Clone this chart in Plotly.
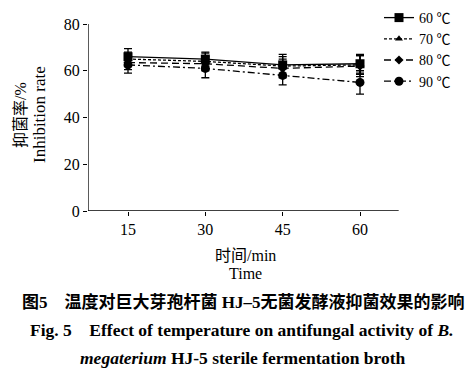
import plotly.graph_objects as go

times = [15, 30, 45, 60]
series_names = ["60 ℃", "70 ℃", "80 ℃", "90 ℃"]
v60 = [66.0, 65.0, 62.5, 63.0]
e60 = [3.5, 3.0, 4.5, 4.0]
v70 = [65.0, 64.0, 62.0, 62.5]
e70 = [3.0, 3.5, 4.0, 4.0]
v80 = [63.5, 63.0, 61.0, 62.0]
e80 = [3.0, 3.0, 4.0, 4.5]
v90 = [62.5, 61.0, 58.0, 55.0]
e90 = [3.5, 4.0, 4.0, 5.0]
y_ticks = [0, 20, 40, 60, 80]

values = [v60, v70, v80, v90]
errors = [e60, e70, e80, e90]
symbols = ["square", "triangle-up", "diamond", "circle"]
sizes = [9, 7, 7, 9]
dashes = ["solid", "3px,2px", "7px,4px", "7px,3px,2px,3px"]

SERIF = "Liberation Serif, Noto Sans CJK SC, serif"

L, R, T, B = 88, 10, 0, 164
W, H = 475, 375
pw = W - L - R
ph = H - T - B
px_per_unit = (360 - 128) / 45.0
x0 = 15 - (128 - L) / px_per_unit
x1 = x0 + pw / px_per_unit
py_per_unit = (211 - 24) / 80.0
ymax = 80 + (24 - T) / py_per_unit

fig = go.Figure()
for name, v, e, s, sz, d in zip(series_names, values, errors, symbols, sizes, dashes):
    fig.add_trace(go.Scatter(
        x=times, y=v, name=name, mode="lines+markers",
        line=dict(color="black", width=1.3, dash=d),
        marker=dict(symbol=s, size=sz, color="black"),
        error_y=dict(type="data", array=e, visible=True, color="black", thickness=1.3, width=4),
    ))


def ypaper(py):
    return (H - B - py) / ph


def xpaper(px):
    return (px - L) / pw


fig.update_layout(
    width=W, height=H,
    margin=dict(l=L, r=R, t=T, b=B),
    paper_bgcolor="white", plot_bgcolor="white",
    font=dict(family=SERIF, size=16, color="black"),
    showlegend=True,
    legend=dict(x=xpaper(379), y=ypaper(2), xanchor="left", yanchor="top",
                font=dict(family=SERIF, size=14, color="black"),
                bgcolor="rgba(0,0,0,0)", tracegroupgap=0, itemwidth=30),
    xaxis=dict(range=[x0, x1], tickvals=times, showline=False,
               ticks="outside", ticklen=4, tickcolor="black",
               showgrid=False, zeroline=False, tickfont=dict(size=16)),
    yaxis=dict(range=[0, ymax], tickvals=y_ticks, showline=False,
               ticks="outside", ticklen=4, tickcolor="black",
               showgrid=False, zeroline=False, tickfont=dict(size=16)),
)
# axis lines limited to the data frame
fig.add_shape(type="line", xref="x", yref="y", x0=x0, x1=60 + 7.5, y0=0, y1=0,
              line=dict(color="black", width=1.3))
fig.add_shape(type="line", xref="x", yref="y", x0=x0, x1=x0, y0=0, y1=80,
              line=dict(color="black", width=1.3))

texts = [
    ("时间/min", 245, 255, 16),
    ("Time", 245, 273, 16),
    ("<b>图5　温度对巨大芽孢杆菌 HJ–5无菌发酵液抑菌效果的影响</b>", 243, 302, 17),
    ("<b>Fig. 5　Effect of temperature on antifungal activity of <i>B.</i></b>", 242, 330, 17.5),
    ("<b><i>megaterium</i> HJ-5 sterile fermentation broth</b>", 243, 358, 17.5),
]
for t, px, py, sz in texts:
    fig.add_annotation(text=t, x=xpaper(px), y=ypaper(py), xref="paper", yref="paper",
                       showarrow=False, xanchor="center", yanchor="middle",
                       font=dict(family=SERIF, size=sz, color="black"))

fig.add_annotation(text="抑菌率/%", x=xpaper(21), y=ypaper(115), xref="paper", yref="paper",
                   showarrow=False, textangle=-90, xanchor="center", yanchor="middle",
                   font=dict(family=SERIF, size=16, color="black"))
fig.add_annotation(text="Inhibition rate", x=xpaper(40), y=ypaper(115), xref="paper", yref="paper",
                   showarrow=False, textangle=-90, xanchor="center", yanchor="middle",
                   font=dict(family=SERIF, size=17, color="black"))

fig.write_html("out.html", config={"displayModeBar": False},
               post_script="document.body.style.margin='0';document.body.style.overflow='hidden';")
